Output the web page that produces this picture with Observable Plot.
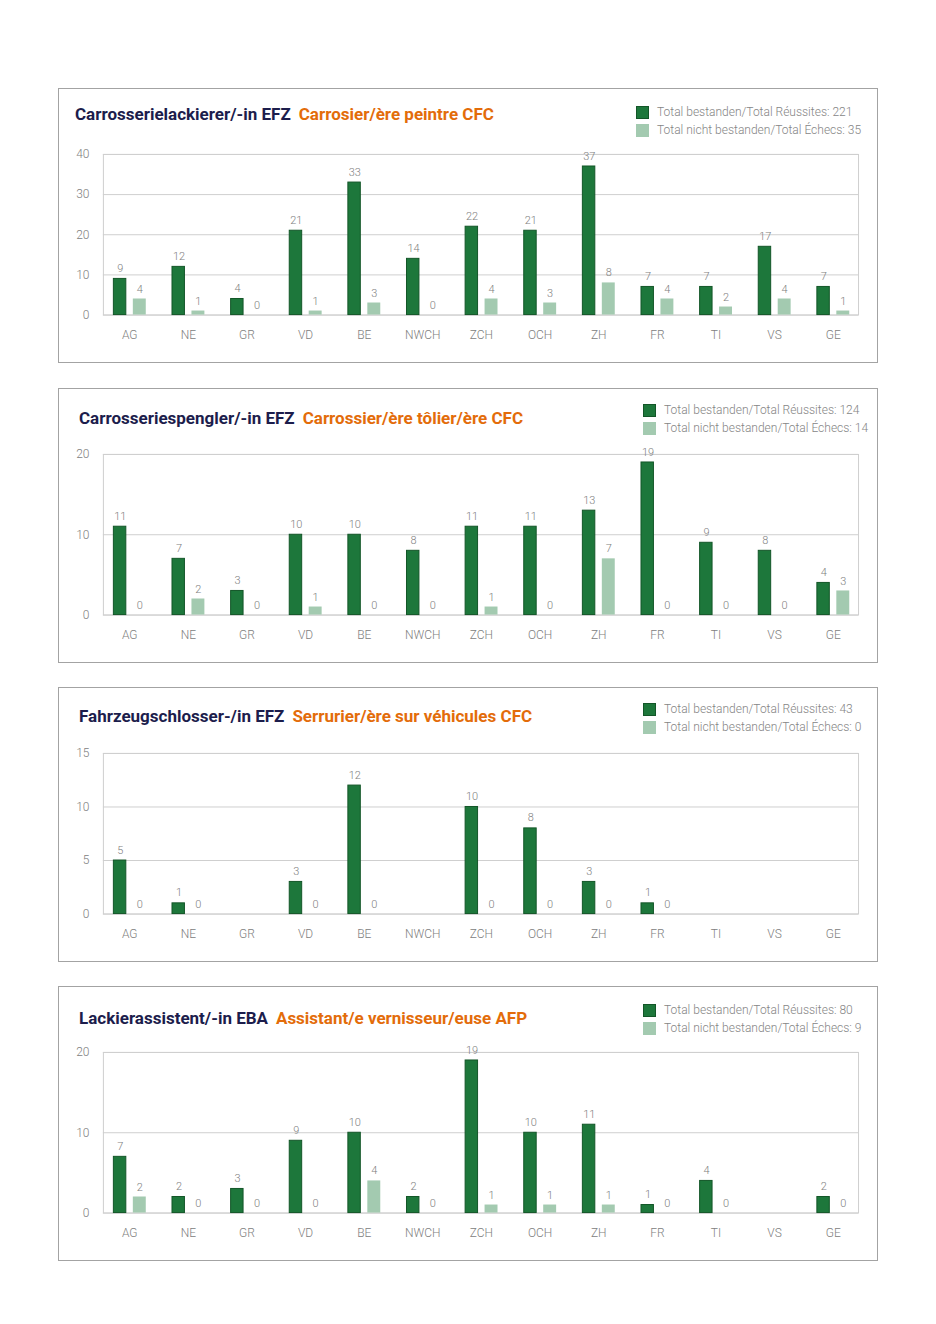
<!DOCTYPE html>
<html>
<head>
<meta charset="utf-8">
<script src="https://cdn.jsdelivr.net/npm/d3@7"></script>
<script src="https://cdn.jsdelivr.net/npm/@observablehq/plot@0.6"></script>
<style>
  html, body { margin: 0; padding: 0; background: #fff; }
  body { width: 936px; height: 1324px; position: relative; font-family: Roboto, "Noto Sans", sans-serif; }
  .panel { position: absolute; left: 58px; width: 820px; height: 275px; box-sizing: border-box; border: 1px solid #a3a3a3; }
  .title { position: absolute; font-weight: 700; font-size: 17px; line-height: 20px; white-space: nowrap; }
  .title .de { color: #1c1d4c; }
  .title .fr { color: #e36c0a; margin-left: 8px; }
  .legend { position: absolute; font-size: 12px; font-weight: 300; color: #858585; line-height: 18px; white-space: nowrap; }
  .legend .row { display: flex; align-items: center; height: 18px; }
  .legend .sw { width: 13px; height: 13px; margin-right: 8px; box-sizing: border-box; }
  .chart { position: absolute; left: -1px; top: 44px; }
</style>
</head>
<body>
<script>
const regions = ["AG","NE","GR","VD","BE","NWCH","ZCH","OCH","ZH","FR","TI","VS","GE"];

const titlesDe = ["Carrosserielackierer/-in EFZ","Carrosseriespengler/-in EFZ","Fahrzeugschlosser-/in EFZ","Lackierassistent/-in EBA"];
const titlesFr = ["Carrosier/ère peintre CFC","Carrossier/ère tôlier/ère CFC","Serrurier/ère sur véhicules CFC","Assistant/e vernisseur/euse AFP"];

const legendPassedLabel = "Total bestanden/Total Réussites: ";
const legendFailedLabel = "Total nicht bestanden/Total Échecs: ";
const totalPassed = [221, 124, 43, 80];
const totalFailed = [35, 14, 0, 9];

const passed1 = [9,12,4,21,33,14,22,21,37,7,7,17,7];
const failed1 = [4,1,0,1,3,0,4,3,8,4,2,4,1];
const passed2 = [11,7,3,10,10,8,11,11,13,19,9,8,4];
const failed2 = [0,2,0,1,0,0,1,0,7,0,0,0,3];
const passed3 = [5,1,null,3,12,null,10,8,3,1,null,null,null];
const failed3 = [0,0,null,0,0,null,0,0,0,0,null,null,null];
const passed4 = [7,2,3,9,10,2,19,10,11,1,4,null,2];
const failed4 = [2,0,0,0,4,0,1,1,1,0,0,null,0];

const yMax = [40, 20, 15, 20];
const yTicks = [[0,10,20,30,40],[0,10,20],[0,5,10,15],[0,10,20]];

const passedSeries = [passed1, passed2, passed3, passed4];
const failedSeries = [failed1, failed2, failed3, failed4];

const DARK = "#1d773b";
const DARK_STROKE = "#135628";
const LIGHT = "#a3cab0";
const GREY = "#808080";
const FONT = "Roboto, 'Noto Sans', sans-serif";

// layout per panel
const panelTops = [88, 388, 687, 986];
const titlePos = [[16, 15], [20, 19], [20, 18], [20, 21]];
const legendPos = [[577, 14], [584, 12], [584, 12], [584, 14]];

panelTops.forEach((top, p) => {
  const panel = document.createElement("div");
  panel.className = "panel";
  panel.style.top = top + "px";
  document.body.appendChild(panel);

  const title = document.createElement("div");
  title.className = "title";
  title.style.left = titlePos[p][0] + "px";
  title.style.top = titlePos[p][1] + "px";
  const de = document.createElement("span"); de.className = "de"; de.textContent = titlesDe[p];
  const fr = document.createElement("span"); fr.className = "fr"; fr.textContent = titlesFr[p];
  title.appendChild(de); title.appendChild(fr);
  panel.appendChild(title);

  const legend = document.createElement("div");
  legend.className = "legend";
  legend.style.left = legendPos[p][0] + "px";
  legend.style.top = legendPos[p][1] + "px";
  [[DARK, DARK_STROKE, legendPassedLabel + totalPassed[p]], [LIGHT, LIGHT, legendFailedLabel + totalFailed[p]]].forEach(([c, s, t]) => {
    const row = document.createElement("div"); row.className = "row";
    const sw = document.createElement("div"); sw.className = "sw"; sw.style.background = c; sw.style.border = "1px solid " + s;
    const tx = document.createElement("span"); tx.textContent = t;
    row.appendChild(sw); row.appendChild(tx);
    legend.appendChild(row);
  });
  panel.appendChild(legend);

  const rows = regions.map((r, i) => ({region: r, passed: passedSeries[p][i], failed: failedSeries[p][i]}));
  const rowsP = rows.filter(d => d.passed != null);
  const rowsF = rows.filter(d => d.failed != null);

  const W = 820, mL = 45, mR = 18;
  const chart = Plot.plot({
    width: W, height: 222,
    marginLeft: mL, marginRight: mR, marginTop: 21, marginBottom: 40,
    style: {fontFamily: FONT, fontSize: "12px", fontWeight: 300, color: GREY, background: "transparent", overflow: "visible"},
    x: {type: "band", domain: regions, range: [mL + 1, W - mR + 8], padding: 0, round: false, label: null},
    y: {domain: [0, yMax[p]], label: null},
    marks: [
      Plot.ruleY(yTicks[p], {stroke: "#cfcfcf", strokeWidth: 1}),
      Plot.frame({stroke: "#cfcfcf"}),
      Plot.barY(rowsP, {x: "region", y: "passed", fill: DARK, stroke: DARK_STROKE, strokeWidth: 1, insetLeft: 9.5, insetRight: 36.8}),
      Plot.barY(rowsF.filter(d => d.failed > 0), {x: "region", y: "failed", fill: LIGHT, insetLeft: 29, insetRight: 16.8}),
      Plot.text(rowsP, {x: "region", y: "passed", text: d => String(d.passed), dx: -13.4, dy: -10.5, fill: GREY, fontSize: 11}),
      Plot.text(rowsF, {x: "region", y: "failed", text: d => String(d.failed), dx: 6.1, dy: -10, fill: GREY, fontSize: 11}),
      Plot.axisX({tickSize: 0, tickPadding: 15, dx: -4, fontSize: 12, fill: GREY, label: null}),
      Plot.axisY({ticks: yTicks[p], tickSize: 0, tickPadding: 14, fontSize: 12, fill: GREY, label: null})
    ]
  });
  chart.classList.add("chart");
  panel.appendChild(chart);
});
</script>
</body>
</html>
